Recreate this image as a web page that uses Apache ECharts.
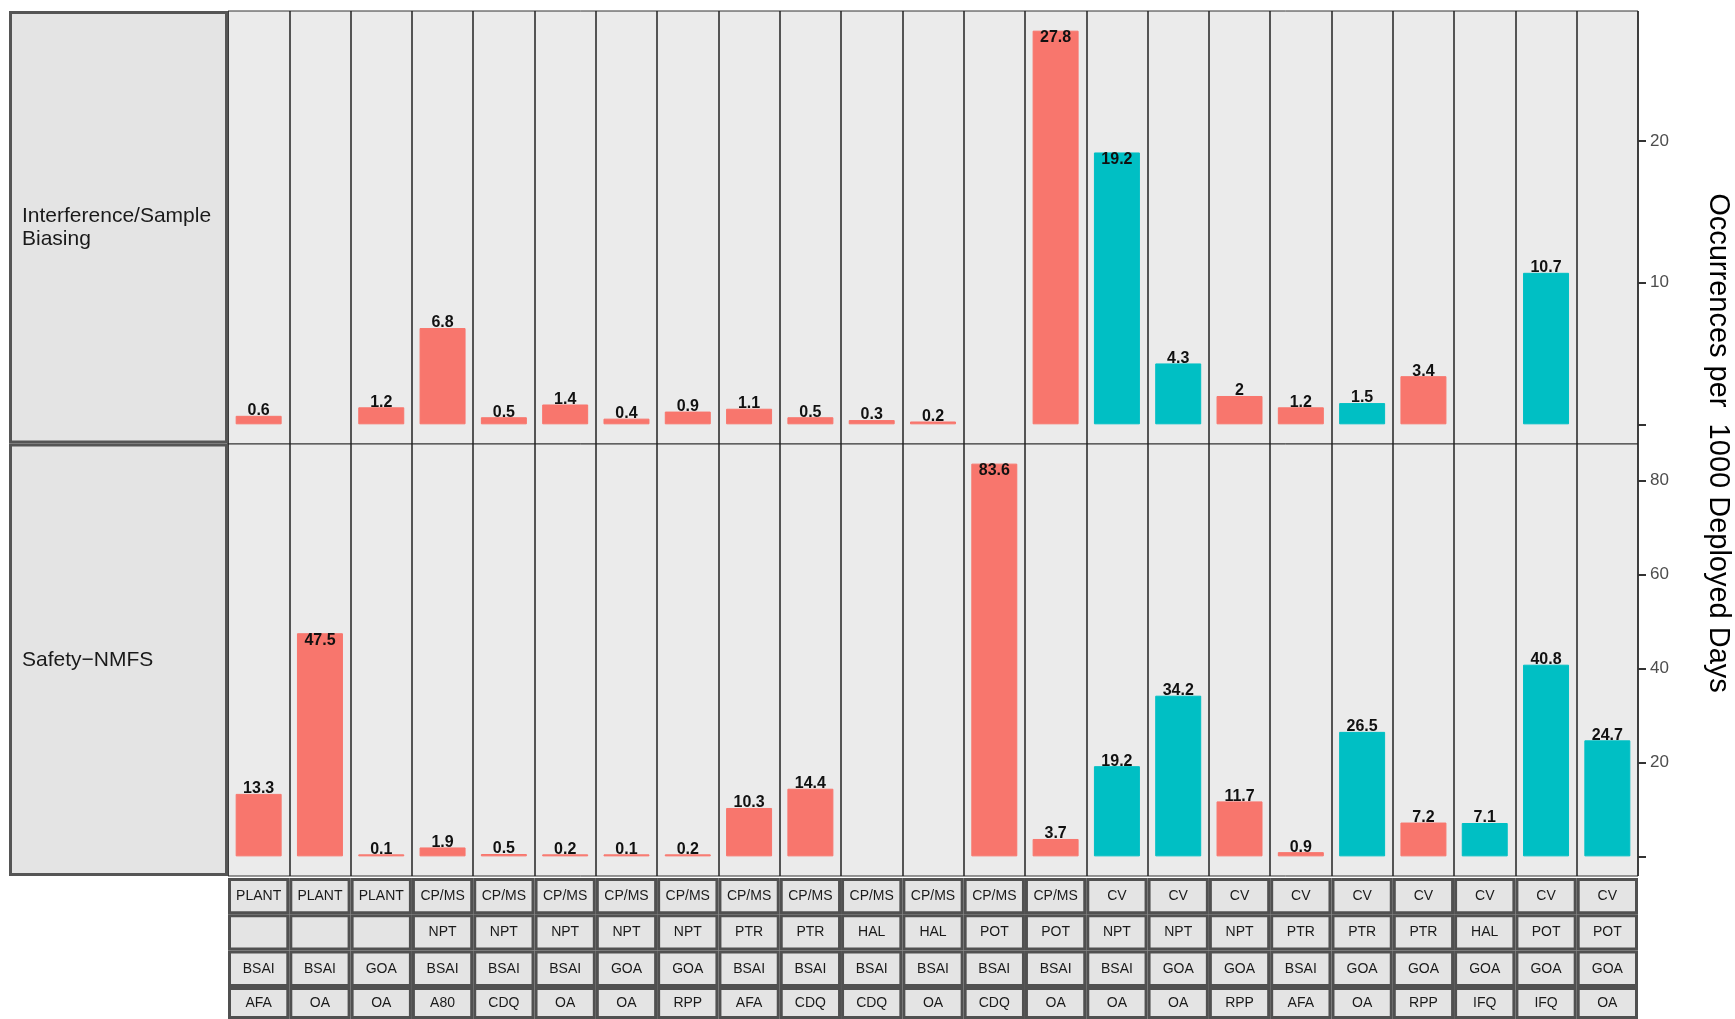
<!DOCTYPE html>
<html>
<head>
<meta charset="utf-8">
<script src="https://cdn.jsdelivr.net/npm/echarts@6/dist/echarts.min.js"></script>
<style>
html,body{margin:0;padding:0;background:#fff;}
#chart{width:1735px;height:1019px;}
</style>
</head>
<body>
<div id="chart"></div>
<script>
// ---- data ----
const sector  = ['PLANT','PLANT','PLANT','CP/MS','CP/MS','CP/MS','CP/MS','CP/MS','CP/MS','CP/MS','CP/MS','CP/MS','CP/MS','CP/MS','CV','CV','CV','CV','CV','CV','CV','CV','CV'];
const gear    = ['','','','NPT','NPT','NPT','NPT','NPT','PTR','PTR','HAL','HAL','POT','POT','NPT','NPT','NPT','PTR','PTR','PTR','HAL','POT','POT'];
const area    = ['BSAI','BSAI','GOA','BSAI','BSAI','BSAI','GOA','GOA','BSAI','BSAI','BSAI','BSAI','BSAI','BSAI','BSAI','GOA','GOA','BSAI','GOA','GOA','GOA','GOA','GOA'];
const program = ['AFA','OA','OA','A80','CDQ','OA','OA','RPP','AFA','CDQ','CDQ','OA','CDQ','OA','OA','OA','RPP','AFA','OA','RPP','IFQ','IFQ','OA'];
const fillGroup = ['A','A','A','A','A','A','A','A','A','A','A','A','A','A','B','B','A','A','B','A','B','B','B'];
const interference = [0.6, null, 1.2, 6.8, 0.5, 1.4, 0.4, 0.9, 1.1, 0.5, 0.3, 0.2, null, 27.8, 19.2, 4.3, 2, 1.2, 1.5, 3.4, null, 10.7, null];
const safety       = [13.3, 47.5, 0.1, 1.9, 0.5, 0.2, 0.1, 0.2, 10.3, 14.4, null, null, 83.6, 3.7, 19.2, 34.2, 11.7, 0.9, 26.5, 7.2, 7.1, 40.8, 24.7];
const rowLabels = ['Interference/Sample\nBiasing', 'Safety\u2212NMFS'];
const topTicks = [0, 10, 20];
const bottomTicks = [0, 20, 40, 60, 80];
const yTitle = 'Occurrences per  1000 Deployed Days';

// ---- layout/style ----
const FONT = 'Liberation Sans, Arial, sans-serif';
const colors = {A: '#F8766D', B: '#00BFC4'};
const cats = sector.map((_, i) => String(i));
const L = 228, W = 1410;
const stripTop = 878, stripH = 36.3;

function barData(vals) {
  const mx = Math.max(...vals.filter(v => v != null));
  return vals.map((v, i) => {
    if (v == null) return null;
    const inside = v > 0.5 * mx;
    return {
      value: v,
      itemStyle: {color: colors[fillGroup[i]], borderColor: colors[fillGroup[i]], borderWidth: 1},
      label: {position: inside ? 'insideTop' : 'top', distance: inside ? -1 : -3}
    };
  });
}
function range(vals) {
  const mx = Math.max(...vals.filter(v => v != null));
  return {min: -0.05 * mx, max: 1.05 * mx};
}

const grids = [
  {left: L, top: 11, width: W, height: 433, show: true, backgroundColor: '#EBEBEB', borderColor: '#333', borderWidth: 1},
  {left: L, top: 444, width: W, height: 432, show: true, backgroundColor: '#EBEBEB', borderColor: '#333', borderWidth: 1}
];
for (let r = 0; r < 4; r++) grids.push({left: L, top: stripTop + r * stripH, width: W, height: stripH});
grids.push({left: 9, top: 11, width: L - 9, height: 865});

const xAxes = [];
const yAxes = [];
for (let g = 0; g < 6; g++) {
  xAxes.push({
    type: 'category', gridIndex: g, data: cats, boundaryGap: true,
    axisLine: {show: false}, axisTick: {show: false}, axisLabel: {show: false},
    splitLine: {show: g < 2, lineStyle: {color: '#222', width: 1.5}}
  });
}
xAxes.push({type: 'value', gridIndex: 6, min: 0, max: 1, show: false});

const tr = range(interference), br = range(safety);
function valueAxis(g, r, ticks) {
  return {
    type: 'value', gridIndex: g, position: 'right', min: r.min, max: r.max,
    axisLine: {show: false},
    splitLine: {show: false},
    axisTick: {show: true, length: 8, lineStyle: {color: '#333', width: 2}, customValues: ticks},
    axisLabel: {show: true, color: '#4D4D4D', fontSize: 17, fontFamily: FONT, margin: 12, customValues: ticks.filter(t => t !== 0)}
  };
}
yAxes.push(valueAxis(0, tr, topTicks));
yAxes.push(valueAxis(1, br, bottomTicks));
for (let r = 0; r < 4; r++) yAxes.push({type: 'value', gridIndex: 2 + r, min: 0, max: 1, show: false});
yAxes.push({type: 'category', gridIndex: 6, data: rowLabels, inverse: true, show: false});

const labelStyle = {show: true, fontWeight: 'bold', color: '#111', fontSize: 16, fontFamily: FONT, formatter: p => String(p.value)};

const series = [
  {type: 'bar', xAxisIndex: 0, yAxisIndex: 0, barWidth: '75%', barMinHeight: 2, data: barData(interference), label: labelStyle, animation: false},
  {type: 'bar', xAxisIndex: 1, yAxisIndex: 1, barWidth: '75%', barMinHeight: 2, data: barData(safety), label: labelStyle, animation: false}
];

const stripRows = [sector, gear, area, program];
stripRows.forEach((row, r) => {
  series.push({
    type: 'custom', xAxisIndex: 2 + r, yAxisIndex: 2 + r, animation: false, silent: true,
    data: row.map((t, i) => [i, t]),
    renderItem: (params, api) => {
      const i = api.value(0);
      const c = api.coord([i, 1]);
      const b = api.coord([i, 0]);
      const w = api.size([1, 0])[0];
      const x = c[0] - w / 2, y = c[1], h = b[1] - c[1];
      return {
        type: 'group',
        children: [
          {type: 'rect', shape: {x: x + 1.5, y: y + 1.5, width: w - 3, height: h - 3},
           style: {fill: '#E4E4E4', stroke: '#505050', lineWidth: 3}},
          {type: 'text', style: {text: row[i], x: c[0], y: y + h / 2, align: 'center', verticalAlign: 'middle',
            fill: '#1A1A1A', fontSize: 14, fontFamily: FONT}}
        ]
      };
    }
  });
});

series.push({
  type: 'custom', xAxisIndex: 6, yAxisIndex: 6, animation: false, silent: true,
  data: rowLabels.map((t, i) => [i, t]),
  renderItem: (params, api) => {
    const i = api.value(0);
    const lt = api.coord([0, i]);
    const rt = api.coord([1, i]);
    const h = api.size([0, 1])[1];
    const x = lt[0], y = lt[1] - h / 2, w = rt[0] - lt[0];
    return {
      type: 'group',
      children: [
        {type: 'rect', shape: {x: x + 1.5, y: y + 1.5, width: w - 3, height: h - 3},
         style: {fill: '#E4E4E4', stroke: '#555', lineWidth: 3}},
        {type: 'text', style: {text: rowLabels[i], x: x + 13, y: lt[1], align: 'left', verticalAlign: 'middle',
          fill: '#1A1A1A', fontSize: 21, lineHeight: 23, fontFamily: FONT}}
      ]
    };
  }
});

const chart = echarts.init(document.getElementById('chart'), null, {renderer: 'canvas'});
chart.setOption({
  backgroundColor: '#fff',
  animation: false,
  grid: grids,
  xAxis: xAxes,
  yAxis: yAxes,
  series: series,
  graphic: [{
    type: 'text', x: 1718, y: 443, rotation: -Math.PI / 2,
    style: {text: yTitle, align: 'center', verticalAlign: 'middle', fontSize: 29, fill: '#000', fontFamily: FONT}
  }]
});
</script>
</body>
</html>
